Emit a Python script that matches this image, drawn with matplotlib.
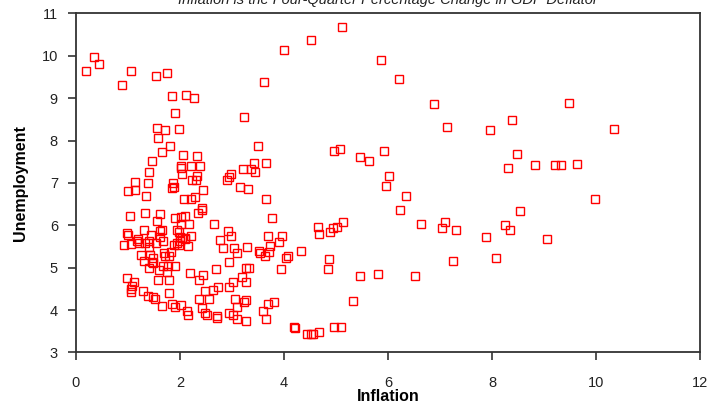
import matplotlib
matplotlib.use("Agg")
import matplotlib.pyplot as plt

plt.rcParams['font.family'] = ['Liberation Sans', 'DejaVu Sans']

# inflation (x) and unemployment (y)
inflation = [
    5.12, 4.52, 4.00, 5.86, 6.22, 3.61, 3.24, 0.34, 0.45, 0.19, 1.05, 0.89, 1.53, 1.75,
    1.84, 2.12, 2.27, 1.90, 1.55, 1.72, 1.98,
    6.88, 9.48, 7.13, 7.96, 8.38, 10.34, 8.48, 8.30, 8.82, 9.21, 9.32, 9.63, 6.35, 9.98,
    8.53, 6.63, 7.09, 7.03, 7.31, 7.89, 8.24, 8.35, 9.05, 7.24, 8.08, 6.52,
    3.50, 4.97, 5.07, 5.46, 5.63, 5.92, 6.02, 5.96, 6.23, 3.42, 3.66, 3.22, 3.36, 3.45,
    2.99, 2.94, 2.90, 3.15, 3.30, 3.65, 3.76, 2.93, 2.99, 3.70, 3.97, 4.65, 4.67, 4.89,
    4.94, 5.02, 5.13,
    3.90, 3.73, 3.28, 3.04, 2.82, 3.09, 3.52, 3.54, 3.71, 3.63, 4.03, 4.08, 4.33, 4.87,
    4.85, 2.94, 3.26, 3.33, 3.95, 5.46, 5.81, 3.19, 3.02, 3.26, 2.95, 2.73, 3.06, 3.27,
    3.24, 3.81, 3.70, 5.33, 3.09, 3.59, 2.94, 2.71, 2.72, 3.02, 3.09, 3.26, 3.65, 4.19,
    4.22, 4.45, 4.51, 4.56, 4.68, 4.97, 5.10,
    1.58, 1.80, 1.65, 2.06, 2.32, 1.46, 2.01, 2.01, 2.21, 2.38, 2.03, 1.40, 2.33, 2.31,
    2.24, 1.13, 1.38, 1.87, 1.85, 1.89, 1.14, 1.01, 2.44, 1.35, 2.07, 2.21, 2.29, 1.04,
    1.33, 1.61, 1.56, 1.90, 2.02, 2.09, 2.01, 2.17, 2.35, 2.43, 2.42, 2.66, 1.31, 1.65,
    1.61, 1.95, 1.98, 0.99, 1.01, 1.44, 1.62, 2.00, 2.04, 2.09, 2.21, 1.19, 2.76,
    0.92, 1.06, 1.17, 1.22, 1.33, 1.41, 1.41, 1.53, 1.67, 1.88, 1.94, 1.98, 2.00, 2.10,
    2.15, 1.25, 1.42, 1.48, 1.31, 1.46, 1.49, 1.69, 1.71, 1.78, 1.83, 1.40, 1.60, 1.67,
    1.76, 1.90, 1.75, 2.19, 2.44, 2.70, 0.98, 1.11, 1.07, 1.05, 1.06, 1.57, 1.79, 2.36,
    1.28, 1.38, 1.49, 1.51, 1.78, 2.63, 2.49, 2.37, 2.56, 1.65, 1.85, 1.90, 2.01, 2.13,
    2.15, 2.42, 2.49, 2.51,
]
unemployment = [
    10.68, 10.38, 10.14, 9.91, 9.45, 9.38, 8.55, 9.96, 9.81, 9.64, 9.65, 9.32, 9.52, 9.59,
    9.05, 9.08, 9.01, 8.65, 8.30, 8.25, 8.28,
    8.85, 8.88, 8.32, 8.25, 8.48, 8.28, 7.69, 7.36, 7.42, 7.42, 7.42, 7.45, 6.68, 6.62,
    6.33, 6.02, 6.07, 5.93, 5.89, 5.73, 6.00, 5.89, 5.67, 5.16, 5.24, 4.80,
    7.88, 7.75, 7.79, 7.60, 7.52, 7.75, 7.16, 6.92, 6.36, 7.46, 7.46, 7.32, 7.32, 7.26,
    7.22, 7.14, 7.06, 6.90, 6.86, 6.62, 6.17, 5.87, 5.74, 5.74, 5.74, 5.97, 5.80, 5.85,
    5.93, 5.97, 6.07,
    5.60, 5.51, 5.50, 5.46, 5.47, 5.34, 5.40, 5.34, 5.37, 5.27, 5.24, 5.27, 5.40, 5.20,
    4.97, 5.13, 5.00, 5.00, 4.97, 4.80, 4.84, 4.78, 4.67, 4.67, 4.54, 4.54, 4.27, 4.23,
    4.18, 4.18, 4.14, 4.21, 4.07, 3.98, 3.94, 3.85, 3.81, 3.88, 3.80, 3.75, 3.78, 3.61,
    3.58, 3.44, 3.44, 3.44, 3.48, 3.60, 3.60,
    8.05, 7.86, 7.72, 7.66, 7.63, 7.52, 7.39, 7.34, 7.39, 7.39, 7.20, 7.26, 7.16, 7.08,
    7.06, 7.03, 7.00, 7.00, 6.87, 6.90, 6.83, 6.80, 6.83, 6.68, 6.63, 6.61, 6.66, 6.22,
    6.29, 6.26, 6.10, 6.17, 6.19, 6.23, 6.02, 6.04, 6.30, 6.36, 6.40, 6.03, 5.88, 5.90,
    5.86, 5.90, 5.85, 5.81, 5.76, 5.78, 5.73, 5.73, 5.71, 5.69, 5.74, 5.68, 5.65,
    5.53, 5.56, 5.62, 5.59, 5.59, 5.63, 5.50, 5.59, 5.64, 5.53, 5.59, 5.54, 5.63, 5.67,
    5.51, 5.31, 5.30, 5.24, 5.16, 5.14, 5.12, 5.35, 5.27, 5.27, 5.37, 4.99, 4.94, 5.04,
    5.04, 5.04, 4.90, 4.87, 4.83, 4.97, 4.76, 4.66, 4.58, 4.49, 4.43, 4.70, 4.70, 4.71,
    4.44, 4.33, 4.31, 4.25, 4.40, 4.48, 4.44, 4.27, 4.27, 4.10, 4.14, 4.07, 4.13, 3.98,
    3.89, 4.04, 3.93, 3.89,
]

title = "Inflation is the Four-Quarter Percentage Change in GDP Deflator"

fig = plt.figure(figsize=(7.10, 4.04), dpi=100)
ax = fig.add_axes([0.107, 0.1275, 0.879, 0.8395])

ax.plot(inflation, unemployment, linestyle='none', marker='s', markersize=6,
        markerfacecolor='none', markeredgecolor='#ff0000', markeredgewidth=1.0)

ax.set_xlim(0, 12)
ax.set_ylim(3, 11)
ax.set_xticks(range(0, 13, 2))
ax.set_yticks(range(3, 12))
ax.tick_params(axis='both', direction='out', length=6, width=1.2, color='#333333',
               labelsize=10.5, labelcolor='#222222')
ax.tick_params(axis='x', pad=11)
ax.tick_params(axis='y', pad=7)
for sp in ax.spines.values():
    sp.set_color('#333333')
    sp.set_linewidth(1.3)

ax.set_xlabel('Inflation', fontsize=11.5, fontweight='bold', labelpad=-1)
ax.set_ylabel('Unemployment', fontsize=11.5, fontweight='bold', labelpad=10)

# title sits half off the top edge, as in the reference
fig.text(0.546, 1.0, title, ha='center', va='center', fontsize=10.5,
         style='italic', color='#222222')

fig.savefig('out.png', dpi=100)
